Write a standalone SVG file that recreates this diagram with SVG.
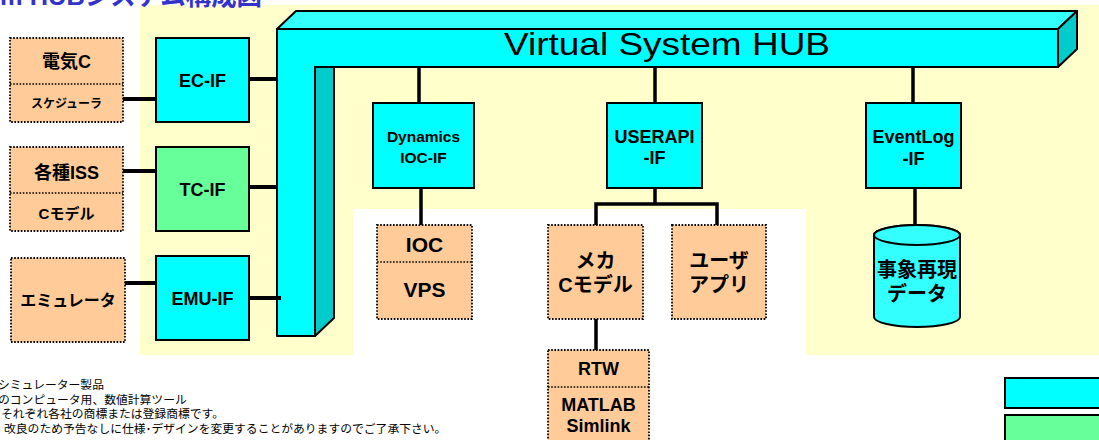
<svg xmlns="http://www.w3.org/2000/svg" width="1099" height="440" viewBox="0 0 1099 440">
<style>
.t{font-family:"Liberation Sans","Noto Sans CJK JP",sans-serif;font-weight:bold;fill:#000;text-anchor:middle}
.note{font-family:"Liberation Sans","Noto Sans CJK JP",sans-serif;font-size:11.8px;fill:#000}
.if{fill:#00FFFF;stroke:#000;stroke-width:2}
.ifg{fill:#66FF99;stroke:#000;stroke-width:2}
.ext{fill:#FFCC99;stroke:#000;stroke-width:1.8;stroke-dasharray:1.6 1.6}
.div{stroke:#000;stroke-width:1.5;stroke-dasharray:1.6 1.6;fill:none}
.hub{stroke:#000;stroke-width:2;stroke-linejoin:round}
.c{stroke:#000;fill:none}
</style>
<rect x="140" y="5" width="959" height="350" fill="#FFFFCC"/>
<rect x="353" y="209" width="453" height="231" fill="#FFFFFF"/>
<text x="0" y="5" font-family="Liberation Sans, Noto Sans CJK JP, sans-serif" font-weight="bold" font-size="26" fill="#3333CC" textLength="262" lengthAdjust="spacingAndGlyphs">m HUBシステム構成図</text>
<g id="hub">
<polygon class="hub" fill="#33FFFF" points="277,29 296,11 1077,11 1058,29"/>
<polygon class="hub" fill="#00CCCC" points="1058,29 1077,11 1077,49 1058,67"/>
<polygon class="hub" fill="#00FFFF" points="277,29 1058,29 1058,67 315,67 315,336 277,336"/>
<polygon class="hub" fill="#00CCCC" points="315,67 334,67 334,318 315,336"/>
<text x="504" y="55" font-family="Liberation Sans, sans-serif" font-size="32" fill="#000" textLength="326" lengthAdjust="spacingAndGlyphs">Virtual System HUB</text>
</g>
<g id="connectors">
<path class="c" stroke-width="4" d="M123,99 H156 M249,79 H277 M123,171 H156 M249,187 H277 M125,283 H156 M249,298 H281"/>
<path class="c" stroke-width="3.5" d="M419,67 V103 M421,188 V225 M655,67 V103 M655,188 V204 M596,227 V204 H717 V227 M596,319 V350 M913,67 V103 M915,188 V225"/>
</g>
<g id="denki">
<rect class="ext" x="10" y="38" width="113" height="84"/>
<line class="div" x1="10" y1="84" x2="123" y2="84"/>
<text class="t" x="66.5" y="67.5" font-size="18">電気C</text>
<text class="t" x="66.5" y="108" font-size="12">スケジューラ</text>
</g>
<g id="ec-if">
<rect class="if" x="156" y="38" width="93" height="84"/>
<text class="t" x="202.5" y="87" font-size="18">EC-IF</text>
</g>
<g id="iss">
<rect class="ext" x="10" y="147" width="113" height="84"/>
<line class="div" x1="10" y1="193" x2="123" y2="193"/>
<text class="t" x="66.5" y="179" font-size="18">各種ISS</text>
<text class="t" x="66.5" y="219" font-size="15">Cモデル</text>
</g>
<g id="tc-if">
<rect class="ifg" x="156" y="147" width="93" height="84"/>
<text class="t" x="202.5" y="196" font-size="18">TC-IF</text>
</g>
<g id="emu">
<rect class="ext" x="11" y="258" width="114" height="84"/>
<text class="t" x="68" y="306" font-size="16">エミュレータ</text>
</g>
<g id="emu-if">
<rect class="if" x="156" y="256" width="93" height="84"/>
<text class="t" x="202.5" y="305" font-size="18">EMU-IF</text>
</g>
<g id="dyn-if">
<rect class="if" x="373" y="103" width="101" height="85"/>
<text class="t" x="423.5" y="142" font-size="15.5">Dynamics</text>
<text class="t" x="423.5" y="163" font-size="15.5">IOC-IF</text>
</g>
<g id="ioc">
<rect class="ext" x="377" y="225" width="95" height="94"/>
<line class="div" x1="377" y1="262" x2="472" y2="262"/>
<text class="t" x="424.5" y="252" font-size="21">IOC</text>
<text class="t" x="424.5" y="297" font-size="21">VPS</text>
</g>
<g id="userapi-if">
<rect class="if" x="607" y="103" width="95" height="85"/>
<text class="t" x="654.5" y="143" font-size="18">USERAPI</text>
<text class="t" x="654.5" y="164" font-size="18">-IF</text>
</g>
<g id="meka">
<rect class="ext" x="548" y="225" width="95" height="94"/>
<text class="t" x="595.5" y="268" font-size="20">メカ</text>
<text class="t" x="595.5" y="292" font-size="20">Cモデル</text>
</g>
<g id="userapp">
<rect class="ext" x="672" y="225" width="94" height="94"/>
<text class="t" x="719" y="268" font-size="20">ユーザ</text>
<text class="t" x="719" y="292" font-size="20">アプリ</text>
</g>
<g id="rtw">
<rect class="ext" x="548" y="350" width="101" height="100"/>
<line class="div" x1="548" y1="387" x2="649" y2="387"/>
<text class="t" x="598.5" y="375" font-size="18">RTW</text>
<text class="t" x="598.5" y="411" font-size="18">MATLAB</text>
<text class="t" x="598.5" y="432" font-size="18">Simlink</text>
</g>
<g id="eventlog-if">
<rect class="if" x="866" y="103" width="95" height="85"/>
<text class="t" x="913.5" y="143" font-size="18">EventLog</text>
<text class="t" x="913.5" y="165" font-size="18">-IF</text>
</g>
<g id="eventdata">
<path d="M874,235 V317 A43,10 0 0 0 960,317 V235 A43,10 0 0 0 874,235 Z" fill="#33FFFF" stroke="#000" stroke-width="2"/>
<ellipse cx="917" cy="235" rx="43" ry="10" fill="#33FFFF" stroke="#000" stroke-width="2"/>
<text class="t" x="917" y="277" font-size="20">事象再現</text>
<text class="t" x="917" y="301" font-size="20">データ</text>
</g>
<g id="legend">
<rect x="1005" y="378" width="110" height="30" fill="#00FFFF" stroke="#000" stroke-width="2"/>
<rect x="1005" y="415" width="110" height="40" fill="#66FF99" stroke="#000" stroke-width="2"/>
</g>
<g id="notes">
<text class="note" x="-2" y="389">シミュレーター製品</text>
<text class="note" x="-2" y="403.5">のコンピュータ用、数値計算ツール</text>
<text class="note" x="1" y="418">それぞれ各社の商標または登録商標です。</text>
<text class="note" x="4" y="432.5">改良のため予告なしに仕様･デザインを変更することがありますのでご了承下さい。</text>
</g>
</svg>
